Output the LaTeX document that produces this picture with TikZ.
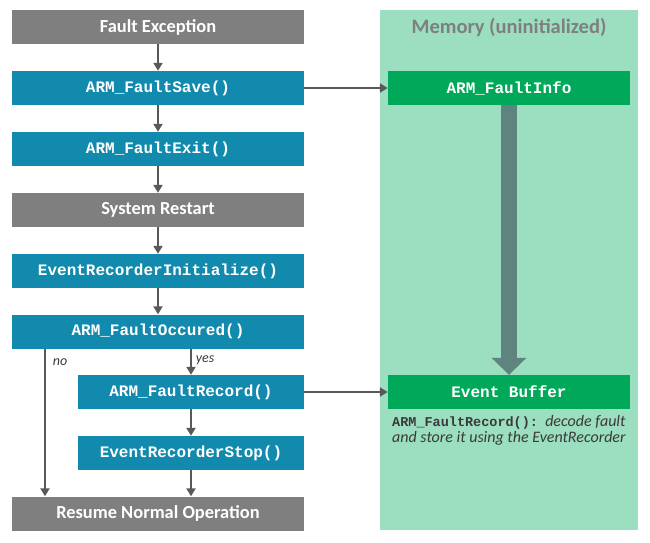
\documentclass[tikz,border=0pt]{standalone}
\usepackage{fontspec}
\setmainfont{Carlito}
\setmonofont{Liberation Mono}
\usetikzlibrary{arrows.meta}

\definecolor{boxgray}{HTML}{7F7F7F}
\definecolor{boxblue}{HTML}{118AAE}
\definecolor{memgreen}{HTML}{9BDEC0}
\definecolor{infogreen}{HTML}{00A859}
\definecolor{flowarrow}{HTML}{595959}
\definecolor{bigarrow}{HTML}{5F847F}
\definecolor{notetext}{HTML}{3A3A3A}

\tikzset{
  base/.style={minimum height=34pt, inner sep=0pt, text=white},
  stepgray/.style={base, fill=boxgray, minimum width=292pt, font=\fontsize{18.4}{20}\selectfont\bfseries},
  stepfunc/.style={base, fill=boxblue, minimum width=292pt, font=\fontsize{16}{18}\selectfont\ttfamily\bfseries},
  stepsub/.style={stepfunc, minimum width=226pt},
  memfield/.style={base, fill=infogreen, minimum width=242pt, font=\fontsize{16}{18}\selectfont\ttfamily\bfseries},
  flow/.style={draw=flowarrow, line width=2pt, -{Triangle[width=9pt,length=8pt]}},
  branch/.style={text=notetext, font=\fontsize{14}{16}\selectfont\itshape}
}

\begin{document}
\begin{tikzpicture}[x=1pt, y=-1pt]
  \useasboundingbox (0,0) rectangle (650,542);

  % memory region
  \fill[memgreen] (380,10) rectangle (638,530);
  \node(MT)[text=boxgray, font=\fontsize{20.5}{22}\selectfont\bfseries] at (509,27) {Memory (uninitialized)};
  \node(INFO)[memfield] at (509,88) {ARM\_FaultInfo};
  \node(BUF)[memfield] at (509,392) {Event Buffer};
  \node(NOTE)[anchor=north west, inner sep=0pt, align=left, text=notetext,
    font=\fontsize{16}{16.5}\selectfont\itshape] at (392,415)
    {{\upshape\ttfamily\bfseries\fontsize{13.5}{16}\selectfont ARM\_FaultRecord():}\ \ decode fault\\and store it using the EventRecorder};
  \draw[bigarrow, line width=16pt, -{Triangle[width=34pt,length=17pt]}] (INFO.south) -- (BUF.north);

  % flow
  \node(FE)[stepgray] at (158,27) {Fault Exception};
  \node(FS)[stepfunc] at (158,88) {ARM\_FaultSave()};
  \node(FX)[stepfunc] at (158,149) {ARM\_FaultExit()};
  \node(SR)[stepgray] at (158,210) {System Restart};
  \node(EI)[stepfunc] at (158,271) {EventRecorderInitialize()};
  \node(FO)[stepfunc] at (158,331.5) {ARM\_FaultOccured()};
  \node(FR)[stepsub] at (191,392) {ARM\_FaultRecord()};
  \node(ES)[stepsub] at (191,453) {EventRecorderStop()};
  \node(RN)[stepgray] at (158,513.5) {Resume Normal Operation};

  \draw[flow] (FE) -- (FS);
  \draw[flow] (FS) -- (FX);
  \draw[flow] (FX) -- (SR);
  \draw[flow] (SR) -- (EI);
  \draw[flow] (EI) -- (FO);
  \draw[flow] (FO.south -| FR) -- (FR);
  \draw[flow] (FR) -- (ES);
  \draw[flow] (ES) -- (ES |- RN.north);
  \coordinate(NO) at (45,0);
  \draw[flow] (NO |- FO.south) -- (NO |- RN.north);
  \node(LNO)[branch] at (60,362) {no};
  \node(LYES)[branch] at (205,360) {yes};

  \draw[flow] (FS) -- (INFO);
  \draw[flow] (FR) -- (BUF);
\end{tikzpicture}
\end{document}
